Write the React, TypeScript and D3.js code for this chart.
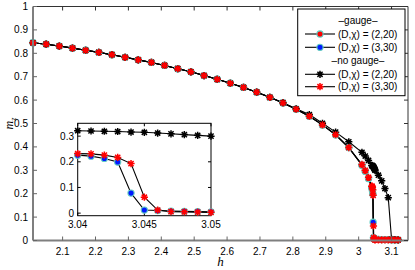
import * as d3 from 'd3';

// h grid shared by all four runs far from the transition
const hCoarse = [2.01, 2.05, 2.09, 2.13, 2.17, 2.21, 2.25, 2.29, 2.33, 2.37, 2.41, 2.45, 2.49,
  2.53, 2.57, 2.61, 2.65, 2.69, 2.73, 2.77, 2.81, 2.85, 2.89, 2.93, 2.97];
const mCoarse = [0.845, 0.839, 0.831, 0.822, 0.813, 0.804, 0.794, 0.783, 0.772, 0.761, 0.748, 0.734, 0.721,
  0.705, 0.689, 0.672, 0.654, 0.634, 0.612, 0.588, 0.561, 0.531, 0.494, 0.452, 0.397];
const mCoarseNoGauge22 = [0.845, 0.839, 0.831, 0.822, 0.813, 0.804, 0.794, 0.783, 0.772, 0.761, 0.748, 0.734, 0.721,
  0.705, 0.689, 0.672, 0.654, 0.634, 0.612, 0.589, 0.563, 0.538, 0.501, 0.463, 0.422];

// gauge, (D,chi) = (2,20)
const hGauge22 = [3.01, 3.02, 3.03, 3.04, 3.041, 3.042, 3.043, 3.045, 3.046, 3.047, 3.048, 3.049, 3.05,
  3.06, 3.07, 3.08, 3.09, 3.1, 3.11, 3.12];
const mGauge22 = [0.322, 0.296, 0.265, 0.226, 0.222, 0.213, 0.199, 0.012, 0.01, 0.008, 0.007, 0.006, 0.005,
  0.005, 0.004, 0.004, 0.004, 0.003, 0.003, 0.003];

// gauge, (D,chi) = (3,30)
const hGauge33 = [3.01, 3.02, 3.03, 3.04, 3.041, 3.042, 3.043, 3.044, 3.045, 3.046, 3.047, 3.048, 3.049, 3.05,
  3.06, 3.07, 3.08, 3.09, 3.1, 3.11, 3.12];
const mGauge33 = [0.322, 0.296, 0.265, 0.226, 0.222, 0.213, 0.199, 0.078, 0.012, 0.01, 0.008, 0.007, 0.006, 0.005,
  0.005, 0.004, 0.004, 0.004, 0.003, 0.003, 0.003];

// no gauge, (D,chi) = (2,20)
const hNoGauge22 = [3.01, 3.02, 3.03, 3.04, 3.041, 3.042, 3.043, 3.044, 3.045, 3.046, 3.047, 3.048, 3.049, 3.05,
  3.06, 3.07, 3.08, 3.09, 3.1, 3.11, 3.12];
const mNoGauge22 = [0.377, 0.361, 0.342, 0.321, 0.32, 0.319, 0.318, 0.316, 0.315, 0.312, 0.309, 0.306, 0.303, 0.3,
  0.279, 0.255, 0.222, 0.183, 0.005, 0.004, 0.003];

// no gauge, (D,chi) = (3,30)
const hNoGauge33 = [3.01, 3.02, 3.03, 3.04, 3.041, 3.042, 3.043, 3.044, 3.045, 3.046, 3.047, 3.048, 3.049, 3.05,
  3.06, 3.07, 3.08, 3.09, 3.1, 3.11, 3.12];
const mNoGauge33 = [0.325, 0.3, 0.27, 0.232, 0.231, 0.226, 0.217, 0.193, 0.062, 0.012, 0.006, 0.005, 0.004, 0.003,
  0.003, 0.003, 0.003, 0.003, 0.003, 0.003, 0.003];

const xTicks = [2.1, 2.2, 2.3, 2.4, 2.5, 2.6, 2.7, 2.8, 2.9, 3, 3.1];
const yTicks = [0, 0.1, 0.2, 0.3, 0.4, 0.5, 0.6, 0.7, 0.8, 0.9, 1];
const insetXTicks = [3.04, 3.045, 3.05];
const insetYTicks = [0, 0.1, 0.2, 0.3];

type Pt = [number, number];
const zip = (h: number[], m: number[]): Pt[] => h.map((v, i) => [v, m[i]]);

const gauge22 = zip([...hCoarse, ...hGauge22], [...mCoarse, ...mGauge22]);
const gauge33 = zip([...hCoarse, ...hGauge33], [...mCoarse, ...mGauge33]);
const noGauge22 = zip([...hCoarse, ...hNoGauge22], [...mCoarseNoGauge22, ...mNoGauge22]);
const noGauge33 = zip([...hCoarse, ...hNoGauge33], [...mCoarse, ...mNoGauge33]);

const CYAN = '#62cbc2';
const FONT = '"Liberation Sans", Arial, Helvetica, sans-serif';

const star = (s: number) => {
  const d = s * 0.72;
  return `M${-s},0H${s}M0,${-s}V${s}M${-d},${-d}L${d},${d}M${-d},${d}L${d},${-d}`;
};

function Circle({ x, y, fill }: { x: number; y: number; fill: string }) {
  return <circle cx={x} cy={y} r={3.1} fill={fill} stroke={CYAN} strokeWidth={1.1} />;
}
function Star({ x, y, color }: { x: number; y: number; color: string }) {
  return <path d={star(3.6)} transform={`translate(${x},${y})`} stroke={color} strokeWidth={1.5} fill="none" />;
}

export default function App() {
  const W = 415, H = 270;
  const x = d3.scaleLinear().domain([2.01, 3.15]).range([33, 408]);
  const y = d3.scaleLinear().domain([0, 1]).range([240.5, 6.5]);
  const xi = d3.scaleLinear().domain([3.04, 3.05]).range([77.7, 211]);
  const yi = d3.scaleLinear().domain([-0.01, 0.35]).range([215.7, 123.3]);

  const line = d3.line<Pt>().x(d => x(d[0])).y(d => y(d[1]));
  const inInset = (p: Pt) => p[0] >= 3.0399 && p[0] <= 3.0501;
  const lineI = d3.line<Pt>().x(d => xi(d[0])).y(d => yi(d[1]));

  const [x0, x1] = x.range();
  const [yb, yt] = y.range();

  return (
    <svg width={W} height={H} style={{ position: 'absolute', left: 0, top: 0, background: '#fff' }}
      fontFamily={FONT}>
      <rect width={W} height={H} fill="#fff" />
      {/* lines */}
      {[gauge33, gauge22, noGauge22, noGauge33].map((s, i) => (
        <path key={i} d={line(s) ?? ''} fill="none" stroke="#000" strokeWidth={1.1} />
      ))}
      {/* markers */}
      {gauge33.map((p, i) => <Circle key={'b' + i} x={x(p[0])} y={y(p[1])} fill="#0019ff" />)}
      {gauge22.map((p, i) => <Circle key={'r' + i} x={x(p[0])} y={y(p[1])} fill="#ff0000" />)}
      {noGauge22.map((p, i) => <Star key={'k' + i} x={x(p[0])} y={y(p[1])} color="#000" />)}
      {noGauge33.map((p, i) => <Star key={'s' + i} x={x(p[0])} y={y(p[1])} color="#ff0000" />)}

      {/* frame */}
      <line x1={x0} x2={x1} y1={yt} y2={yt} stroke="#333" strokeWidth={1} />
      <line x1={x1} x2={x1} y1={yt} y2={yb} stroke="#333" strokeWidth={1} />
      <line x1={x0} x2={x1} y1={yb} y2={yb} stroke="#7f7f7f" strokeWidth={2} />
      <line x1={x0} x2={x0} y1={yt} y2={yb} stroke="#7f7f7f" strokeWidth={2} />
      {xTicks.map(t => (
        <g key={'xt' + t}>
          <line x1={x(t)} x2={x(t)} y1={yb} y2={yb - 4} stroke="#666" />
          <line x1={x(t)} x2={x(t)} y1={yt} y2={yt + 4} stroke="#333" />
          <text x={x(t)} y={yb + 14} textAnchor="middle" fontSize={10}>{t}</text>
        </g>
      ))}
      {yTicks.map(t => (
        <g key={'yt' + t}>
          <line x1={x0} x2={x0 + 4} y1={y(t)} y2={y(t)} stroke="#666" />
          <line x1={x1} x2={x1 - 4} y1={y(t)} y2={y(t)} stroke="#333" />
          <text x={x0 - 5} y={y(t) + 3.5} textAnchor="end" fontSize={10}>{t}</text>
        </g>
      ))}
      <text x={(x0 + x1) / 2} y={266} textAnchor="middle" fontSize={13} fontStyle="italic"
        fontFamily='"Liberation Serif", "Times New Roman", serif'>h</text>
      <text transform={`translate(13,${(yb + yt) / 2}) rotate(-90)`} textAnchor="middle" fontSize={12}
        fontFamily='"Liberation Serif", "Times New Roman", serif'>
        <tspan fontStyle="italic">m</tspan><tspan fontSize={8} dy={2.5} fontStyle="italic">z</tspan>
      </text>

      {/* inset */}
      <rect x={77.7} y={123.3} width={211 - 77.7} height={215.7 - 123.3} fill="#fff" stroke="#000" strokeWidth={1} />
      {insetXTicks.map(t => (
        <g key={'ixt' + t}>
          <line x1={xi(t)} x2={xi(t)} y1={215.7} y2={212.7} stroke="#000" />
          <line x1={xi(t)} x2={xi(t)} y1={123.3} y2={126.3} stroke="#000" />
          <text x={xi(t)} y={228} textAnchor="middle" fontSize={10}>{t}</text>
        </g>
      ))}
      {insetYTicks.map(t => (
        <g key={'iyt' + t}>
          <line x1={77.7} x2={80.7} y1={yi(t)} y2={yi(t)} stroke="#000" />
          <line x1={211} x2={208} y1={yi(t)} y2={yi(t)} stroke="#000" />
          <text x={74} y={yi(t) + 3.5} textAnchor="end" fontSize={10}>{t}</text>
        </g>
      ))}
      {[gauge33, noGauge22, noGauge33].map((s, i) => (
        <path key={'il' + i} d={lineI(s.filter(inInset)) ?? ''} fill="none" stroke="#000" strokeWidth={1.1} />
      ))}
      {gauge33.filter(inInset).map((p, i) => <Circle key={'ib' + i} x={xi(p[0])} y={yi(p[1])} fill="#0019ff" />)}
      {noGauge22.filter(inInset).map((p, i) => <Star key={'ik' + i} x={xi(p[0])} y={yi(p[1])} color="#000" />)}
      {noGauge33.filter(inInset).map((p, i) => <Star key={'is' + i} x={xi(p[0])} y={yi(p[1])} color="#ff0000" />)}

      {/* legend */}
      <rect x={297.7} y={9} width={405 - 297.7} height={95.7 - 9} fill="#fff" stroke="#000" strokeWidth={1} />
      <text x={358} y={24} textAnchor="middle" fontSize={10}>–gauge–</text>
      <text x={358} y={64} textAnchor="middle" fontSize={10}>–no gauge–</text>
      {[
        { yy: 34, label: '(D,χ) = (2,20)', kind: 'c', color: '#ff0000' },
        { yy: 47.3, label: '(D,χ) = (3,30)', kind: 'c', color: '#0019ff' },
        { yy: 74.3, label: '(D,χ) = (2,20)', kind: 's', color: '#000' },
        { yy: 86.7, label: '(D,χ) = (3,30)', kind: 's', color: '#ff0000' },
      ].map((r, i) => (
        <g key={'lg' + i}>
          <line x1={305} x2={335} y1={r.yy} y2={r.yy} stroke="#000" strokeWidth={1.1} />
          {r.kind === 'c' ? <Circle x={320} y={r.yy} fill={r.color} /> : <Star x={320} y={r.yy} color={r.color} />}
          <text x={338} y={r.yy + 3.5} fontSize={10}>{r.label}</text>
        </g>
      ))}
    </svg>
  );
}
